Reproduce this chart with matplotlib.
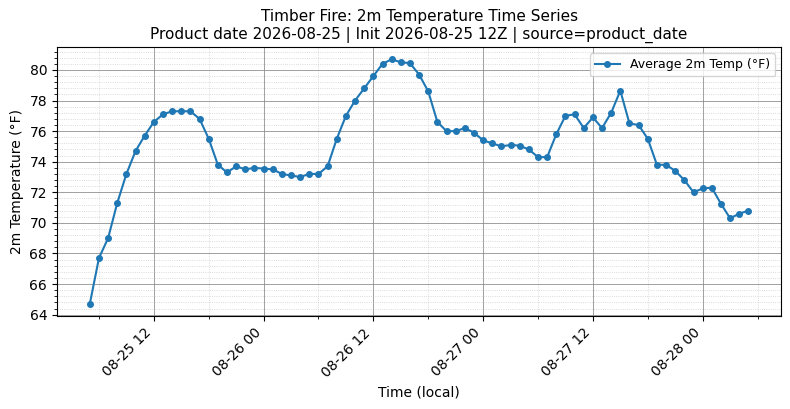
import matplotlib
matplotlib.use("Agg")
import matplotlib.pyplot as plt
import matplotlib.dates as mdates
from matplotlib.ticker import AutoMinorLocator
import pandas as pd

start_time = "2026-08-25 05:00"
temps_f = [
    64.7, 67.7, 69.0, 71.3, 73.2, 74.7, 75.7, 76.6, 77.1, 77.3,
    77.3, 77.3, 76.8, 75.5, 73.8, 73.3, 73.7, 73.5, 73.6, 73.55,
    73.5, 73.2, 73.1, 73.0, 73.2, 73.2, 73.7, 75.5, 77.0, 78.0,
    78.8, 79.6, 80.4, 80.7, 80.5, 80.45, 79.7, 78.6, 76.6, 76.0,
    76.0, 76.2, 75.9, 75.4, 75.2, 75.0, 75.1, 75.05, 74.8, 74.3,
    74.3, 75.8, 77.0, 77.1, 76.2, 76.9, 76.2, 77.2, 78.65, 76.5,
    76.4, 75.5, 73.8, 73.8, 73.4, 72.8, 72.0, 72.25, 72.3, 71.25,
    70.3, 70.6, 70.8,
]
times = pd.date_range(start_time, periods=len(temps_f), freq="h")

fig, ax = plt.subplots(figsize=(7.9, 4.09), dpi=100)
plt.subplots_adjust(left=0.072, right=0.989, top=0.885, bottom=0.227)

ax.plot(times, temps_f, marker="o", markersize=4, linewidth=1.5,
        color="#1f77b4", label="Average 2m Temp (°F)")

ax.xaxis.set_major_locator(mdates.HourLocator(byhour=[0, 12]))
ax.xaxis.set_minor_locator(mdates.HourLocator(byhour=[6, 18]))
ax.xaxis.set_major_formatter(mdates.DateFormatter("%m-%d %H"))
ax.yaxis.set_minor_locator(AutoMinorLocator(5))

ax.grid(which="major", color="#888888", linewidth=0.7, alpha=0.8)
ax.grid(which="minor", color="#bbbbbb", linestyle=":", linewidth=0.6, alpha=0.7)

plt.setp(ax.get_xticklabels(), rotation=45, ha="right")
ax.set_xlabel("Time (local)")
ax.set_ylabel("2m Temperature (°F)")
ax.set_title("Timber Fire: 2m Temperature Time Series\n"
             "Product date 2026-08-25 | Init 2026-08-25 12Z | source=product_date",
             fontsize=11)
ax.legend(loc="upper right", fontsize=9)

plt.savefig("out.png", dpi=100)
